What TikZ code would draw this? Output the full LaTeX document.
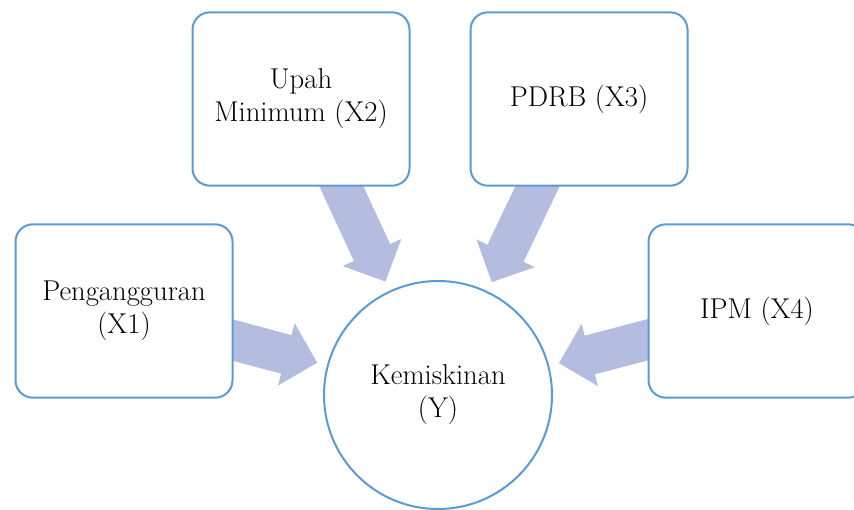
\documentclass[tikz,border=0pt]{standalone}
\usepackage{tikz}
\usetikzlibrary{arrows.meta, backgrounds}
\definecolor{boxblue}{HTML}{5B9BD5}
\definecolor{arrowlilac}{HTML}{B4BDE0}
\tikzstyle{varbox} = [rectangle, rounded corners=13pt, minimum width=162.75pt, minimum height=130pt,
  align=center, draw=boxblue, fill=white, line width=1.5pt, font=\fontsize{21.5}{24.75}\selectfont]
\tikzstyle{ybox} = [circle, minimum size=171pt, inner sep=0pt,
  align=center, draw=boxblue, fill=white, line width=1.5pt, font=\fontsize{21.5}{24.75}\selectfont]
\tikzstyle{bigarrow} = [arrowlilac, line width=30pt, -{Triangle[length=24pt, width=47pt]},
  shorten <=-8pt, shorten >=7.5pt]

\begin{document}
\begin{tikzpicture}[x=0.75pt, y=-0.75pt]
  \path[use as bounding box, clip] (0,0) rectangle (854,510);

  \node (x1) [varbox] at (124,311) {Pengangguran\\(X1)};
  \node (x2) [varbox] at (301,99) {Upah\\Minimum (X2)};
  \node (x3) [varbox] at (579,99) {PDRB (X3)};
  \node (x4) [varbox] at (757,311) {IPM (X4)};
  \node (y)  [ybox] at (438,395) {Kemiskinan\\(Y)};

  \begin{scope}[on background layer]
    \draw[bigarrow] (x1)--(y);
    \draw[bigarrow] (x2)--(y);
    \draw[bigarrow] (x3)--(y);
    \draw[bigarrow] (x4)--(y);
  \end{scope}
\end{tikzpicture}
\end{document}
